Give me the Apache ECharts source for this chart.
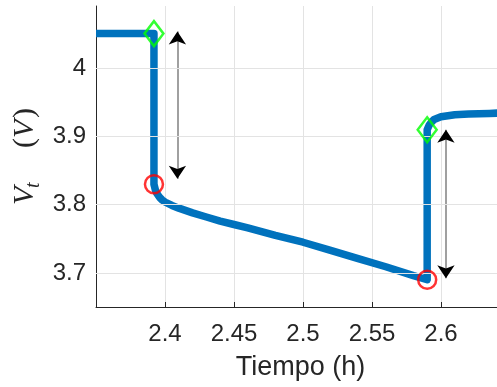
<!DOCTYPE html>
<html>
<head>
<meta charset="utf-8">
<script src="https://cdn.jsdelivr.net/npm/echarts@6/dist/echarts.min.js"></script>
<style>
  html, body { margin: 0; padding: 0; background: #ffffff; }
  #chart { width: 497px; height: 387px; }
</style>
</head>
<body>
<div id="chart"></div>
<script>
// Terminal voltage during a pulse: time (h) and voltage (V)
const timeH = [2.35, 2.392, 2.392, 2.393, 2.394, 2.396, 2.398, 2.400, 2.405, 2.410, 2.420, 2.430, 2.440, 2.450, 2.460, 2.480, 2.500, 2.520, 2.540, 2.560, 2.580, 2.590, 2.590, 2.5915, 2.593, 2.595, 2.600, 2.610, 2.620, 2.635, 2.65];
const voltV = [4.051, 4.051, 3.830, 3.822, 3.817, 3.811, 3.807, 3.804, 3.799, 3.795, 3.788, 3.782, 3.776, 3.771, 3.766, 3.755, 3.745, 3.733, 3.721, 3.709, 3.696, 3.690, 3.910, 3.917, 3.921, 3.925, 3.929, 3.932, 3.933, 3.934, 3.935];

// Points just before each step (diamonds) and right after it (circles)
const stepBeforeT = [2.392, 2.590];
const stepBeforeV = [4.051, 3.910];
const stepAfterT  = [2.392, 2.590];
const stepAfterV  = [3.830, 3.690];

// Double arrows marking each voltage jump: x, upper end, lower end
const arrowT    = [2.409, 2.6036];
const arrowTop  = [4.054, 3.910];
const arrowBot  = [3.838, 3.692];

const yTicks = [3.7, 3.8, 3.9, 4.0];

const curve = timeH.map((t, i) => [t, voltV[i]]);
const diamonds = stepBeforeT.map((t, i) => [t, stepBeforeV[i]]);
const circles = stepAfterT.map((t, i) => [t, stepAfterV[i]]);
const arrows = arrowT.map((t, i) => ({ coords: [[t, arrowBot[i]], [t, arrowTop[i]]] }));

const axisColor = '#262626';
const gridColor = '#e3e3e3';
const sans = '"Liberation Sans", Arial, Helvetica, sans-serif';
const serif = '"Liberation Serif", "Times New Roman", serif';

const chart = echarts.init(document.getElementById('chart'), null, { renderer: 'canvas' });

chart.setOption({
  animation: false,
  backgroundColor: '#ffffff',
  grid: { left: 96, right: 0, top: 6, bottom: 80 },
  xAxis: {
    type: 'value',
    min: 2.35,
    max: 2.6406,
    interval: 0.05,
    name: 'Tiempo (h)',
    nameLocation: 'middle',
    nameGap: 47,
    nameTextStyle: { color: axisColor, fontSize: 27, fontFamily: sans, padding: [0, 0, 0, 8] },
    axisLine: { show: true, onZero: false, lineStyle: { color: axisColor, width: 1 } },
    axisTick: { show: true, inside: true, length: 5, lineStyle: { color: axisColor } },
    axisLabel: {
      color: axisColor, fontSize: 24, fontFamily: sans, margin: 15,
      showMinLabel: false, showMaxLabel: false,
      formatter: v => String(Math.round(v * 100) / 100)
    },
    splitLine: { show: true, lineStyle: { color: gridColor, width: 1 } }
  },
  yAxis: {
    type: 'value',
    min: 3.65,
    max: 4.0915,
    axisLine: { show: true, onZero: false, lineStyle: { color: axisColor, width: 1 } },
    axisTick: { show: true, inside: true, length: 5, customValues: yTicks, lineStyle: { color: axisColor } },
    axisLabel: {
      color: axisColor, fontSize: 24, fontFamily: sans, margin: 10,
      customValues: yTicks,
      formatter: v => String(Math.round(v * 10) / 10)
    },
    splitLine: { show: false }
  },
  graphic: [
    {
      type: 'group',
      x: 25, y: 205,
      rotation: Math.PI / 2,
      children: [
        { type: 'text', x: 0, y: 0, style: { text: 'V', font: 'italic 30px ' + serif, fill: axisColor, verticalAlign: 'middle', align: 'left' } },
        { type: 'text', x: 17, y: 9, style: { text: 't', font: 'italic 20px ' + serif, fill: axisColor, verticalAlign: 'middle', align: 'left' } },
        { type: 'text', x: 57, y: 0, style: { text: '(', font: '30px ' + serif, fill: axisColor, verticalAlign: 'middle', align: 'left' } },
        { type: 'text', x: 67, y: 0, style: { text: 'V', font: 'italic 30px ' + serif, fill: axisColor, verticalAlign: 'middle', align: 'left' } },
        { type: 'text', x: 87, y: 0, style: { text: ')', font: '30px ' + serif, fill: axisColor, verticalAlign: 'middle', align: 'left' } }
      ]
    }
  ],
  series: [
    {
      // horizontal grid lines at the labelled voltages
      type: 'line',
      data: [],
      silent: true,
      markLine: {
        silent: true,
        symbol: 'none',
        label: { show: false },
        lineStyle: { color: gridColor, width: 1, type: 'solid' },
        data: yTicks.map(v => ({ yAxis: v }))
      },
      z: 1
    },
    {
      type: 'line',
      data: curve,
      showSymbol: false,
      lineStyle: { color: '#0072BD', width: 7.5, join: 'round', cap: 'butt' },
      z: 3
    },
    {
      // arrow shafts
      type: 'lines',
      coordinateSystem: 'cartesian2d',
      data: arrows,
      symbol: 'none',
      lineStyle: { color: '#808080', width: 1.5, opacity: 1 },
      z: 4
    },
    {
      // arrow heads
      type: 'lines',
      coordinateSystem: 'cartesian2d',
      data: arrows,
      symbol: ['arrow', 'arrow'],
      symbolSize: 13,
      lineStyle: { color: '#000000', width: 0, opacity: 1 },
      z: 5
    },
    {
      type: 'scatter',
      data: circles,
      symbol: 'circle',
      symbolSize: 18,
      itemStyle: { color: 'rgba(0,0,0,0)', borderColor: '#ff0000', borderWidth: 2.5 },
      z: 6
    },
    {
      type: 'scatter',
      data: diamonds,
      symbol: 'diamond',
      symbolSize: [19, 25],
      itemStyle: { color: 'rgba(0,0,0,0)', borderColor: '#00ff00', borderWidth: 2.5 },
      z: 6
    }
  ]
});
</script>
</body>
</html>
